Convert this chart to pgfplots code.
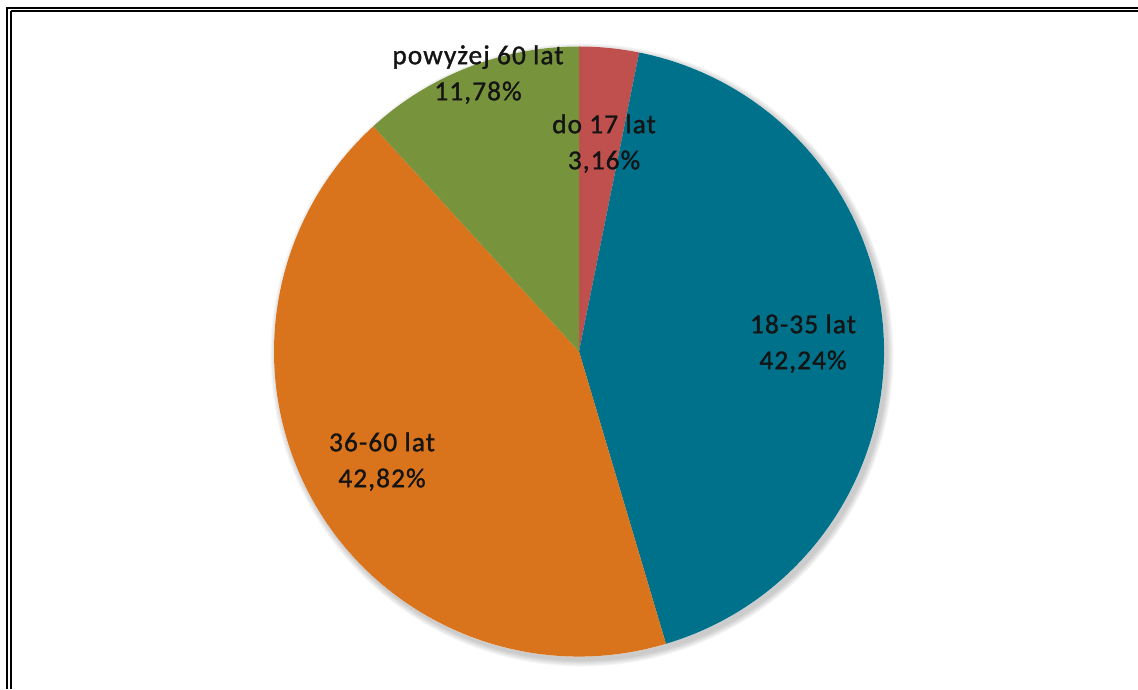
\documentclass[border=0pt]{standalone}
\usepackage{pgfplots}
\pgfplotsset{compat=1.18}
\usepackage{pgfplotstable}
\usepackage{fontspec}
\setmainfont{Carlito}
\newfontfamily\labfont[LetterSpace=4, FakeBold=1.2]{Carlito}

\definecolor{slice0}{HTML}{C0504D}
\definecolor{slice1}{HTML}{00718A}
\definecolor{slice2}{HTML}{D9731C}
\definecolor{slice3}{HTML}{77933C}

% share of each age group, clockwise from the top
\pgfplotstableread[col sep=comma]{
pct,name
3.16,do 17 lat
42.24,18-35 lat
42.82,36-60 lat
11.78,powyżej 60 lat
}\piedata

\newcommand\R{228.75pt}% 305 px
\begin{document}
\begin{tikzpicture}
% precompute slice angles from the table
\gdef\cum{0}
\foreach \i in {0,...,3}{%
  \pgfplotstablegetelem{\i}{pct}\of\piedata
  \let\p\pgfplotsretval
  \pgfmathsetmacro\a{90-3.6*\cum}%
  \pgfmathsetmacro\b{90-3.6*(\cum+\p)}%
  \expandafter\xdef\csname sa\i\endcsname{\a}%
  \expandafter\xdef\csname sb\i\endcsname{\b}%
  \pgfmathsetmacro\c{\cum+\p}%
  \xdef\cum{\c}%
}
\begin{axis}[
  hide axis, scale only axis, clip=false,
  x=0.75pt, y=0.75pt,
  xmin=0, xmax=1138, ymin=0, ymax=689,
]
% frame
\draw[line width=1.6pt] (axis cs:7,681) -- (axis cs:1138,681);
\draw[line width=1.2pt] (axis cs:11,677.7) -- (axis cs:1138,677.7);
\draw[line width=1.6pt] (axis cs:7,681.6) -- (axis cs:7,0);
\draw[line width=1.2pt] (axis cs:11,678.3) -- (axis cs:11,0);
% soft shadow
\pgfplotsinvokeforeach{1,...,7}{
  \fill[black, opacity=0.03] (axis cs:582,334) circle[radius={228.75pt+#1*0.7pt}];
}
\fill[white] (axis cs:579,337.5) circle[radius=\R];
% slices
\pgfplotsinvokeforeach{0,...,3}{
  \fill[slice#1] (axis cs:579,337.5) -- ([shift={(\csname sa#1\endcsname:\R)}]axis cs:579,337.5)
     arc[start angle=\csname sa#1\endcsname, end angle=\csname sb#1\endcsname, radius=\R] -- cycle;
}
% labels
\tikzset{lab/.style={align=center, text=black!92, font=\labfont\fontsize{20.5}{27}\selectfont, inner sep=0pt}}
\node[lab] at (axis cs:478,614.5) {powyżej 60 lat\\11,78\%};
\node[lab] at (axis cs:604,545.5) {do 17 lat\\3,16\%};
\node[lab] at (axis cs:803,345.5) {18-35 lat\\42,24\%};
\node[lab] at (axis cs:382,227.5) {36-60 lat\\42,82\%};
\end{axis}
\pgfresetboundingbox
\path (0,0) rectangle (853.5pt,516.75pt);
\end{tikzpicture}
\end{document}
